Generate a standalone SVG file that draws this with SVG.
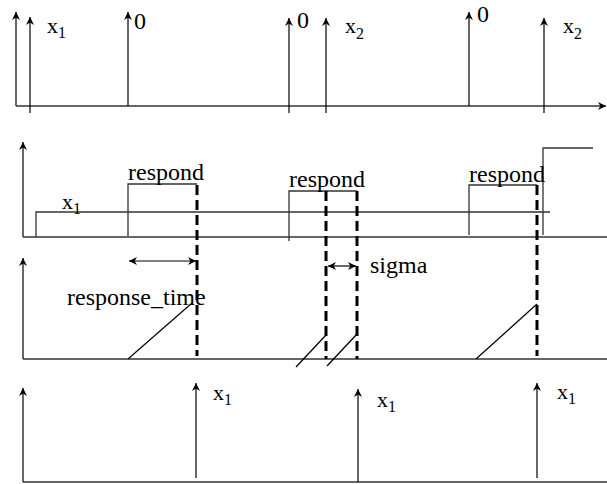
<svg xmlns="http://www.w3.org/2000/svg" width="607" height="484" viewBox="0 0 607 484">
<style>
  .ax { stroke: #333; stroke-width: 1.5; fill: none; }
  .ln { stroke: #000; stroke-width: 1.2; fill: none; }
  .sig { stroke: #333; stroke-width: 1.3; fill: none; }
  .dash { stroke: #000; stroke-width: 3; stroke-dasharray: 10 5; fill: none; }
  .arr { marker-end: url(#ah); }
  .dbl { marker-start: url(#ah); marker-end: url(#ah); }
  text { font-family: "Liberation Serif", "Times New Roman", Times, serif; fill: #000; }
  .t { font-size: 24px; }
  .x { font-size: 22px; }
  .sub { font-size: 16px; }
</style>
<defs>
  <marker id="ah" viewBox="0 0 10 10" refX="10" refY="5" markerWidth="9" markerHeight="8" markerUnits="userSpaceOnUse" orient="auto-start-reverse">
    <path d="M0,0 L10,5 L0,10 L3,5 z" fill="#000"/>
  </marker>
</defs>

<g id="panel1">
  <g id="p1-axes">
    <line class="ax arr" x1="16" y1="106" x2="606" y2="106"/>
    <line class="ax arr" x1="16" y1="106" x2="16" y2="12"/>
  </g>
  <g id="p1-impulses">
    <line class="ln arr" x1="30" y1="113" x2="30" y2="17"/>
    <line class="ln arr" x1="128" y1="106" x2="128" y2="12"/>
    <line class="ln arr" x1="289" y1="113" x2="289" y2="18"/>
    <line class="ln arr" x1="326" y1="113" x2="326" y2="18"/>
    <line class="ln arr" x1="469" y1="106" x2="469" y2="12"/>
    <line class="ln arr" x1="544" y1="113" x2="544" y2="18"/>
  </g>
  <g id="p1-labels">
    <text class="x" x="47" y="33">x<tspan class="sub" dy="5">1</tspan></text>
    <text class="t" x="134" y="29">0</text>
    <text class="t" x="297" y="28">0</text>
    <text class="x" x="345" y="33">x<tspan class="sub" dy="6">2</tspan></text>
    <text class="t" x="477" y="22">0</text>
    <text class="x" x="563" y="33">x<tspan class="sub" dy="6">2</tspan></text>
  </g>
</g>

<g id="panel2">
  <g id="p2-axes">
    <line class="ax arr" x1="23" y1="237" x2="23" y2="142"/>
    <line class="ax" x1="23" y1="237" x2="607" y2="237"/>
  </g>
  <g id="p2-signals">
    <polyline class="sig" points="36,237 36,212 550,212"/>
    <polyline class="sig" points="128,236 128,184 197,184"/>
    <polyline class="sig" points="289,241 289,191 357,191"/>
    <polyline class="sig" points="469,235 469,185 537,185"/>
    <polyline class="sig" points="543,235 543,148 593,148"/>
  </g>
  <g id="p2-labels">
    <text class="x" x="62" y="209">x<tspan class="sub" dy="5">1</tspan></text>
    <text class="t" x="128" y="180">respond</text>
    <text class="t" x="289" y="187">respond</text>
    <text class="t" x="469" y="182">respond</text>
  </g>
</g>

<g id="panel3">
  <g id="p3-axes">
    <line class="ax arr" x1="23" y1="359" x2="23" y2="258"/>
    <line class="ax" x1="23" y1="359" x2="607" y2="359"/>
  </g>
  <g id="p3-ramps">
    <line class="ln" x1="128" y1="359" x2="192" y2="303"/>
    <line class="ln" x1="296" y1="367" x2="326" y2="335"/>
    <line class="ln" x1="327" y1="366" x2="357" y2="334"/>
    <line class="ln" x1="476" y1="359" x2="537" y2="304"/>
  </g>
  <g id="p3-labels">
    <text class="t" x="67" y="305">response_time</text>
    <text class="t" x="370" y="273">sigma</text>
  </g>
</g>

<g id="connectors">
  <line class="dash" x1="197" y1="185" x2="197" y2="356"/>
  <line class="dash" x1="326" y1="191" x2="326" y2="359"/>
  <line class="dash" x1="357" y1="191" x2="357" y2="359"/>
  <line class="dash" x1="537" y1="185" x2="537" y2="356"/>
  <line class="ln dbl" x1="129" y1="261" x2="196" y2="261"/>
  <line class="ln dbl" x1="328" y1="266" x2="356" y2="266"/>
</g>

<g id="panel4">
  <g id="p4-axes">
    <line class="ax arr" x1="23" y1="482" x2="23" y2="388"/>
    <line class="ax" x1="23" y1="482" x2="607" y2="482"/>
  </g>
  <g id="p4-impulses">
    <line class="ln arr" x1="196" y1="478" x2="196" y2="383"/>
    <line class="ln arr" x1="358" y1="482" x2="358" y2="389"/>
    <line class="ln arr" x1="537" y1="478" x2="537" y2="383"/>
  </g>
  <g id="p4-labels">
    <text class="x" x="213" y="400">x<tspan class="sub" dy="5">1</tspan></text>
    <text class="x" x="377" y="407">x<tspan class="sub" dy="5">1</tspan></text>
    <text class="x" x="557" y="399">x<tspan class="sub" dy="5">1</tspan></text>
  </g>
</g>
</svg>
